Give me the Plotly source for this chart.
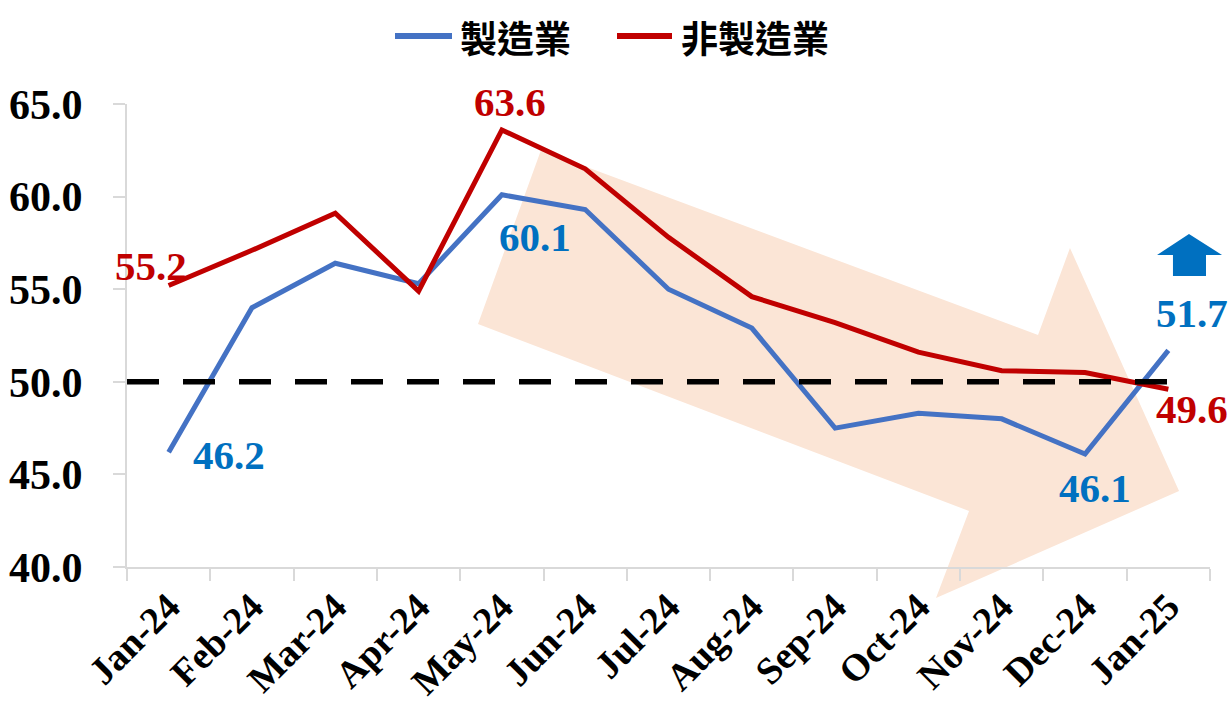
import plotly.graph_objects as go

# ---- data ----
months = ["Jan-24", "Feb-24", "Mar-24", "Apr-24", "May-24", "Jun-24", "Jul-24",
          "Aug-24", "Sep-24", "Oct-24", "Nov-24", "Dec-24", "Jan-25"]
manufacturing = [46.2, 54.0, 56.4, 55.3, 60.1, 59.3, 55.0, 52.9, 47.5, 48.3, 48.0, 46.1, 51.7]
non_manufacturing = [55.2, 57.1, 59.1, 54.9, 63.6, 61.5, 57.8, 54.6, 53.2, 51.6, 50.6, 50.5, 49.6]
series_names = ["製造業", "非製造業"]
threshold = 50.0
y_ticks = [40, 45, 50, 55, 60, 65]

# ---- styling ----
W, H = 1231, 712
M_L, M_R, M_T, M_B = 127, 21, 104, 145
BLUE_LINE = "#4472C4"
BLUE_TEXT = "#0070C0"
RED = "#C00000"
PEACH = "#FBE5D6"
AXIS_GREY = "#D9D9D9"
SERIF = "Liberation Serif, Times New Roman, serif"
CJK = "Noto Sans CJK TC, Noto Sans CJK SC, sans-serif"

plot_w = W - M_L - M_R
plot_h = H - M_T - M_B


def to_paper(x, y):
    return (x - M_L) / plot_w, (H - M_B - y) / plot_h


def path_from(pts):
    p = [to_paper(x, y) for x, y in pts]
    return "M " + " L ".join(f"{x:.4f},{y:.4f}" for x, y in p) + " Z"


fig = go.Figure()

colors = [BLUE_LINE, RED]
for name, values, col in zip(series_names, [manufacturing, non_manufacturing], colors):
    fig.add_trace(go.Scatter(
        x=months, y=values, name=name, mode="lines",
        line=dict(color=col, width=5), showlegend=False,
    ))

# big downward trend arrow behind the lines
trend_arrow = [(541, 150), (1038, 335), (1070, 248), (1179, 491),
               (936, 598), (969, 511), (478, 324)]
fig.add_shape(type="path", xref="paper", yref="paper", path=path_from(trend_arrow),
              fillcolor=PEACH, line=dict(width=0), layer="below")

# small "up" arrow next to the latest manufacturing reading
up_arrow = [(1189, 234), (1222, 255), (1206, 255), (1206, 276),
            (1173, 276), (1173, 255), (1157, 255)]
fig.add_shape(type="path", xref="paper", yref="paper", path=path_from(up_arrow),
              fillcolor=BLUE_TEXT, line=dict(width=0), layer="above")

# 50 threshold
fig.add_shape(type="line", xref="x", yref="y", x0=-0.5, x1=12.03,
              y0=threshold, y1=threshold,
              line=dict(color="black", width=5.5, dash="32px,24px"), layer="above")

# value labels: (series, index, xshift, yshift, colour)
label_specs = [
    (non_manufacturing, 0, -18, 20, RED),
    (non_manufacturing, 4, 8, 28, RED),
    (non_manufacturing, 12, 24, -20, RED),
    (manufacturing, 0, 60, -3, BLUE_TEXT),
    (manufacturing, 4, 33, -42, BLUE_TEXT),
    (manufacturing, 11, 10, -34, BLUE_TEXT),
    (manufacturing, 12, 24, 37, BLUE_TEXT),
]
for series, i, dx, dy, col in label_specs:
    fig.add_annotation(
        x=months[i], y=series[i], text=f"{series[i]:.1f}", showarrow=False,
        xshift=dx, yshift=dy, xanchor="center", yanchor="middle",
        font=dict(family=SERIF, size=41, color=col, weight="bold"),
    )

# legend drawn as line swatches + text above the plot
legend_items = [(395, 452, 458), (617, 672, 679)]
for (lx0, lx1, tx), name, col in zip(legend_items, series_names, colors):
    ax0, ay = to_paper(lx0, 36)
    ax1, _ = to_paper(lx1, 36)
    fig.add_shape(type="line", xref="paper", yref="paper", x0=ax0, x1=ax1, y0=ay, y1=ay,
                  line=dict(color=col, width=6))
    txp, typ = to_paper(tx, 37)
    fig.add_annotation(xref="paper", yref="paper", x=txp, y=typ, text=name,
                       showarrow=False, xanchor="left", yanchor="middle",
                       font=dict(family=CJK, size=37, color="black", weight="bold"))

fig.update_layout(
    width=W, height=H,
    margin=dict(l=M_L, r=M_R, t=M_T, b=M_B, autoexpand=False),
    paper_bgcolor="white", plot_bgcolor="white",
    showlegend=False,
)

fig.update_xaxes(
    type="category", range=[-0.5, 12.5], tickson="boundaries",
    ticks="outside", ticklen=12, tickwidth=2, tickcolor=AXIS_GREY,
    showline=True, linecolor=AXIS_GREY, linewidth=2,
    showgrid=False, zeroline=False, tickangle=-45,
    tickfont=dict(family=SERIF, size=38, color="black", weight="bold"),
)
fig.update_yaxes(
    range=[40, 65], tickvals=y_ticks, tickformat=".1f",
    ticks="outside", ticklen=12, tickwidth=2, tickcolor=AXIS_GREY,
    showline=True, linecolor=AXIS_GREY, linewidth=2,
    showgrid=False, zeroline=False, ticklabelstandoff=22,
    tickfont=dict(family=SERIF, size=42, color="black", weight="bold"),
)

fig.write_html("out.html")
